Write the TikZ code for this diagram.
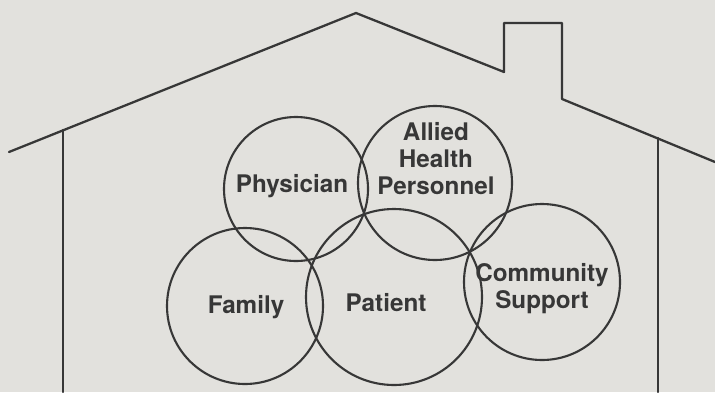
\documentclass[tikz,border=0pt]{standalone}
\usepackage{fontspec}
\setmainfont{TeX Gyre Heros}
\definecolor{paper}{RGB}{226,225,221}
\definecolor{ink}{RGB}{55,55,55}
\tikzset{
  ring/.style={draw=ink, line width=1.2pt, circle, inner sep=0pt},
  word/.style={anchor=base, align=center, text=ink, font=\bfseries\fontsize{13.8}{15.3}\selectfont}
}
\begin{document}
\begin{tikzpicture}[x=0.02cm, y=-0.02cm, line join=round, line cap=round]
\useasboundingbox (0,0) rectangle (715,392);
\fill[paper] (0,0) rectangle (715,392);
% house
\draw[ink, line width=1.3pt] (9,152)--(356,13)--(504,72)--(504,23)--(562,23)--(562,99)--(715,162);
\draw[ink, line width=1.3pt] (63,130)--(63,392) (658,138)--(658,392);
% circles
\node[ring, minimum size=144*0.02cm] (physician) at (296,189) {};
\node[ring, minimum size=154*0.02cm] (allied) at (435,183) {};
\node[ring, minimum size=156*0.02cm] (family) at (245,306) {};
\node[ring, minimum size=176*0.02cm] (patient) at (394,297) {};
\node[ring, minimum size=156*0.02cm] (community) at (542,282) {};
% labels (base = last line)
\node[word] (physician-text) at (292,192) {Physician};
\node[word] (allied-text) at (436,194) {Allied\\Health\\Personnel};
\node[word] (family-text) at (246,313) {Family};
\node[word] (patient-text) at (386,311) {Patient};
\node[word] (community-text) at (542,308) {Community\\Support};
\end{tikzpicture}
\end{document}
